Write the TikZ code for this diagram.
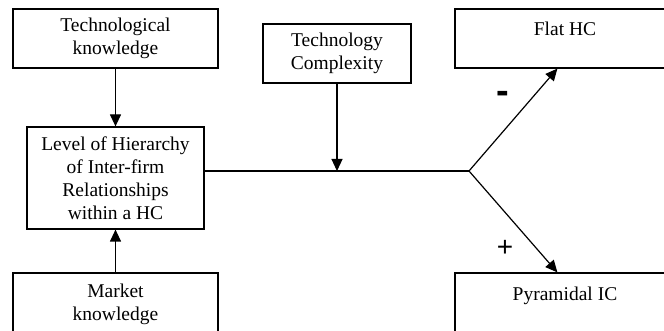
\documentclass[tikz,border=0pt]{standalone}
\usepackage{fontspec}
\setmainfont{Liberation Serif}
\newfontfamily\signfont{Liberation Sans}
\usetikzlibrary{arrows.meta,calc}
\tikzset{
  box/.style={draw, line width=1.2pt, inner sep=0pt, align=center,
    font=\fontsize{19.5}{23}\selectfont},
  conn/.style={line width=1.2pt},
  arr/.style={line width=1.2pt, -{Triangle[length=12pt,width=11pt]}},
  sign/.style={inner sep=0pt, font=\signfont}
}
\begin{document}
\begin{tikzpicture}[x=1pt,y=1pt]
\useasboundingbox (0,0) rectangle (664,331);
\clip (0,0) rectangle (664,331);
\node[box, minimum width=205pt, minimum height=59pt] (tech) at (115.5,292.5) {Technological\\knowledge};
\node[box, minimum width=177pt, minimum height=102pt] (level) at (115.5,153) {Level of Hierarchy\\of Inter-firm\\Relationships\\within a HC};
\node[box, minimum width=205pt, minimum height=62pt] (market) at (115.5,27) {Market\\knowledge};
\node[box, minimum width=148pt, minimum height=59pt] (complexity) at (337,277.5) {Technology\\Complexity};
\node[box, minimum width=220pt, minimum height=59pt, text height=13.5pt, text depth=20pt] (flat) at (565,292.5) {Flat HC};
\node[box, minimum width=220pt, minimum height=70pt, text height=13.5pt, text depth=29pt] (pyr) at (565,23) {Pyramidal IC};
\coordinate (J) at (469,160);
\draw[arr] (tech.south) -- (level.north);
\draw[arr] (market.north) -- (level.south);
\draw[conn] (level.east |- J) -- (J);
\draw[arr] (complexity.south) -- (complexity.south |- J);
\draw[arr] (J) -- ($(flat.south west)+(103,0)$);
\draw[arr] (J) -- ($(pyr.north west)+(103,0)$);
\node[sign, font=\signfont\bfseries\fontsize{38}{38}\selectfont] (minus) at (503,234) {-};
\node[sign, font=\signfont\fontsize{28}{28}\selectfont] (plus) at (505,83) {+};
\end{tikzpicture}
\end{document}
